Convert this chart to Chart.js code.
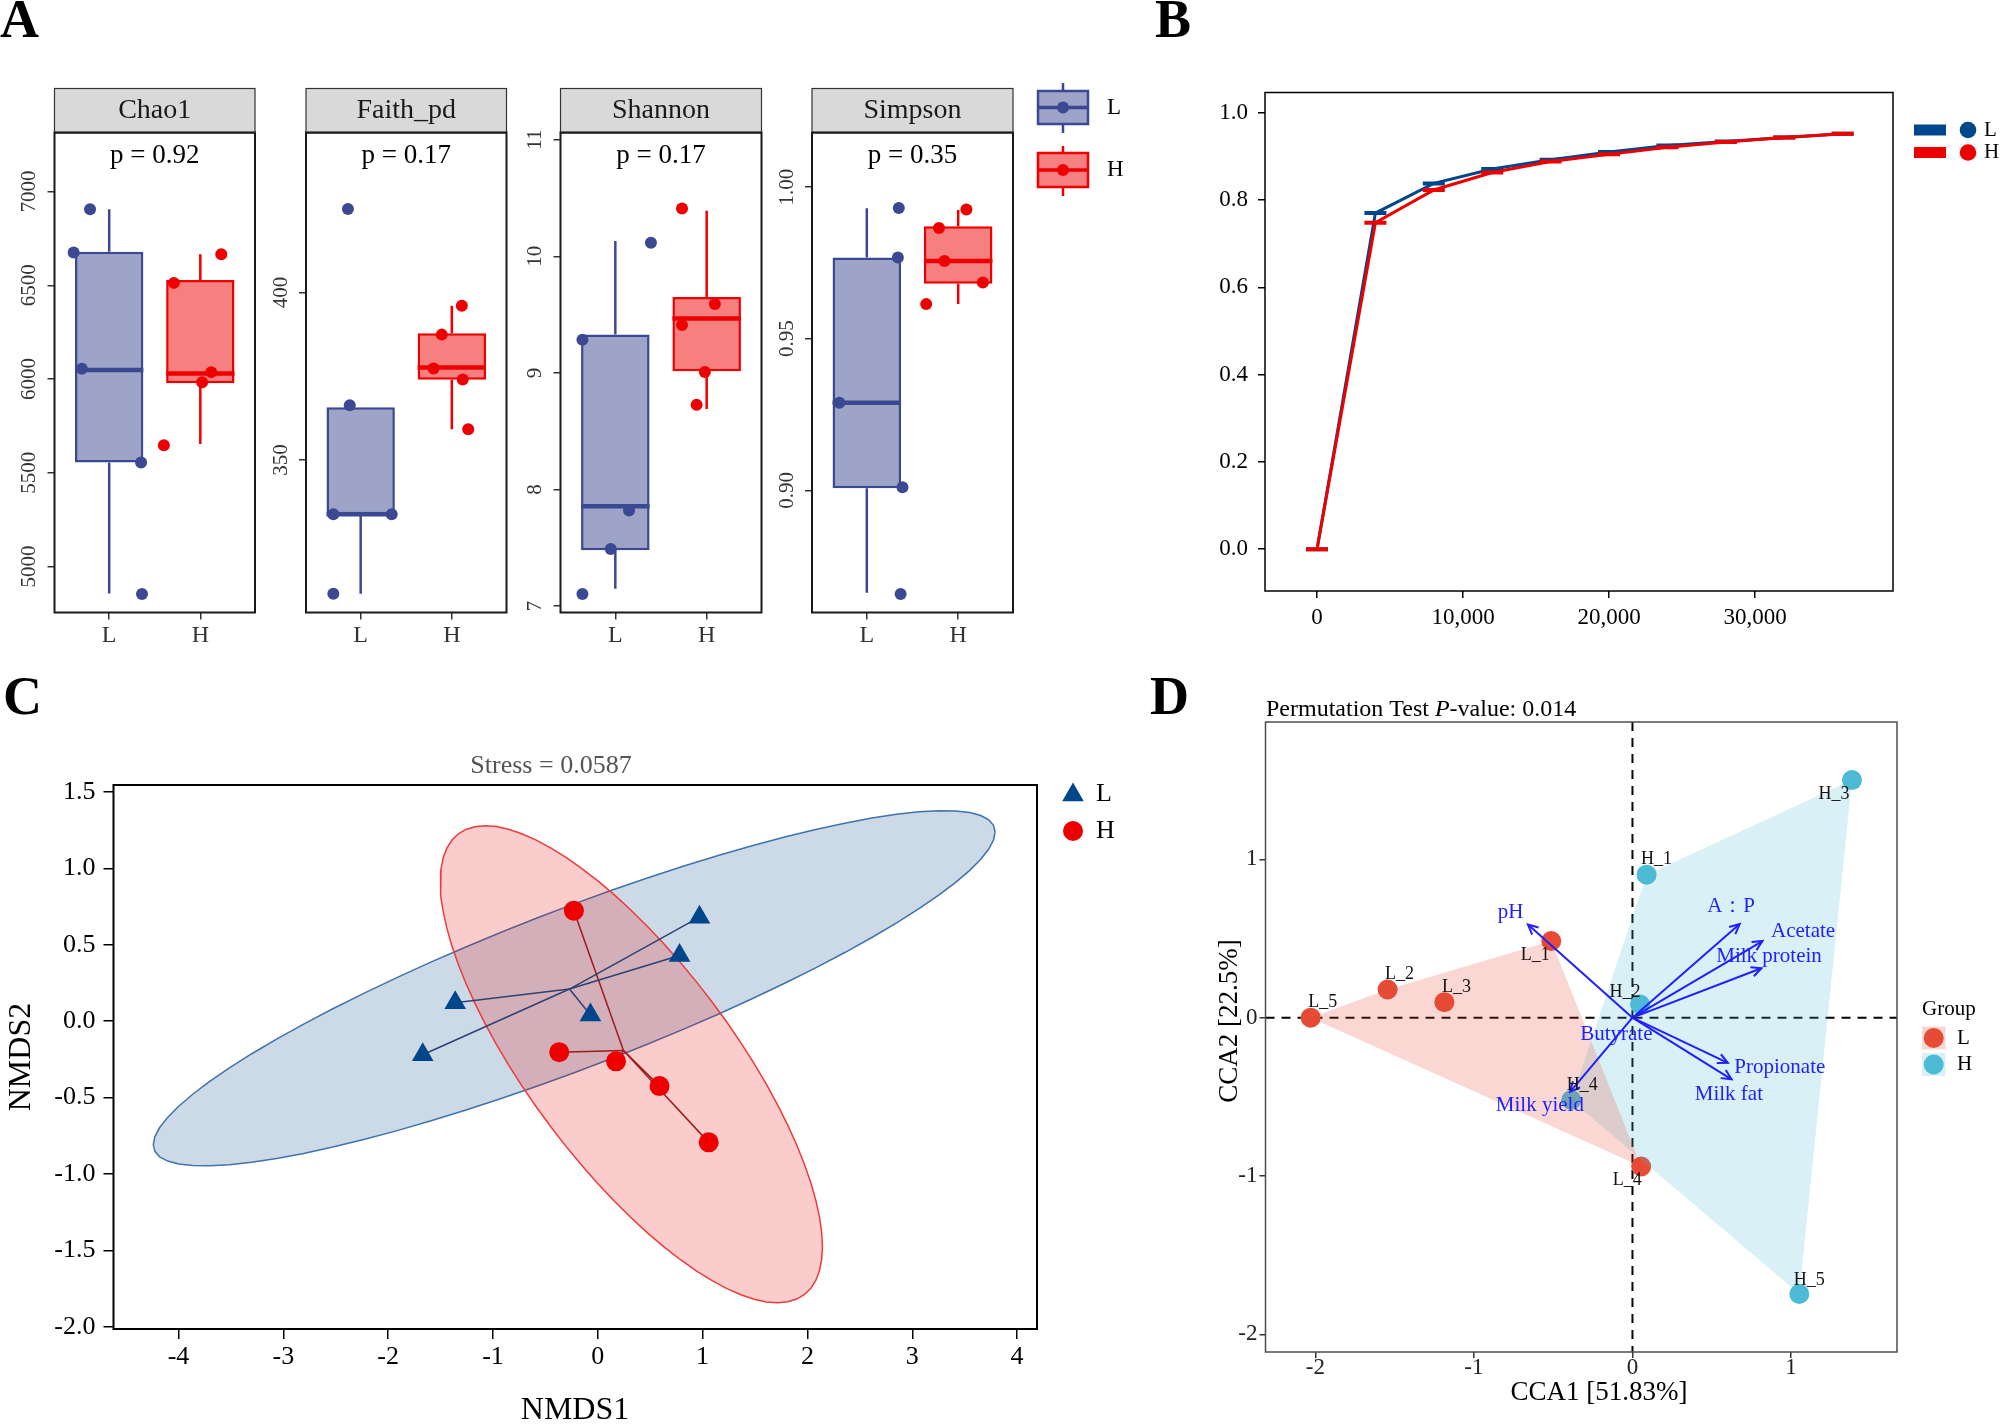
<!DOCTYPE html>
<html>
<head>
<meta charset="utf-8">
<script src="https://cdn.jsdelivr.net/npm/chart.js@4.4.1/dist/chart.umd.min.js"></script>
<style>
  html, body { margin: 0; padding: 0; background: #fff; }
  #fig { position: relative; width: 2000px; height: 1424px; overflow: hidden; background: #fff;
         font-family: 'Liberation Serif', 'Times New Roman', serif; }
  #fig canvas { position: absolute; left: 0; top: 0; }
  .tag { position: absolute; font-weight: bold; font-size: 54px; line-height: 1; color: #000; }
</style>
</head>
<body>
<div id="fig">
  <canvas id="a1" width="2000" height="1424"></canvas>
  <canvas id="a2" width="2000" height="1424"></canvas>
  <canvas id="a3" width="2000" height="1424"></canvas>
  <canvas id="a4" width="2000" height="1424"></canvas>
  <canvas id="b" width="2000" height="1424"></canvas>
  <canvas id="c" width="2000" height="1424"></canvas>
  <canvas id="d" width="2000" height="1424"></canvas>
  <div class="tag" style="left:0px;top:-8px">A</div>
  <div class="tag" style="left:1155px;top:-8px">B</div>
  <div class="tag" style="left:3px;top:669px">C</div>
  <div class="tag" style="left:1150px;top:669px">D</div>
</div>
<script>
// ---------- A: alpha diversity ----------
const groups = ['L', 'H'];
const facetNames = ['Chao1', 'Faith_pd', 'Shannon', 'Simpson'];
const facetP = ['p = 0.92', 'p = 0.17', 'p = 0.17', 'p = 0.35'];

const chao1L = [6906, 6675, 6055, 5555, 4854];
const chao1H = [6666, 6513, 6037, 5983, 5647];
const chao1JitL = [-0.21, -0.39, -0.30, 0.35, 0.36];
const chao1JitH = [0.23, -0.29, 0.12, 0.02, -0.40];
const chao1BoxL = [4856, 5555, 6048, 6679, 6906];
const chao1BoxH = [5654, 5978, 6030, 6529, 6666];
const chao1Ticks = [5000, 5500, 6000, 6500, 7000];
const chao1TickLabels = ['5000', '5500', '6000', '6500', '7000'];
const chao1Range = [4755, 7315];

const faithL = [424.9, 366.3, 333.8, 333.8, 310.1];
const faithH = [396.0, 387.4, 377.3, 374.0, 359.2];
const faithJitL = [-0.14, -0.12, -0.30, 0.34, -0.30];
const faithJitH = [0.11, -0.11, -0.20, 0.12, 0.18];
const faithBoxL = [310.1, 333.8, 333.8, 365.7, 365.7];
const faithBoxH = [359.2, 373.9, 377.6, 387.8, 396.0];
const faithTicks = [350, 400];
const faithTickLabels = ['350', '400'];
const faithRange = [304.5, 447.7];

const shannonL = [9.285, 10.116, 7.49, 7.82, 7.105];
const shannonH = [10.41, 9.59, 9.41, 9.007, 8.726];
const shannonJitL = [-0.36, 0.39, -0.05, 0.15, -0.36];
const shannonJitH = [-0.27, 0.09, -0.27, -0.02, -0.11];
const shannonBoxL = [7.15, 7.48, 7.856, 9.33, 10.13];
const shannonBoxH = [8.69, 9.015, 9.466, 9.65, 10.39];
const shannonTicks = [7, 8, 9, 10, 11];
const shannonTickLabels = ['7', '8', '9', '10', '11'];
const shannonRange = [6.946, 11.061];

const simpsonL = [0.9931, 0.9768, 0.9289, 0.9010, 0.8658];
const simpsonH = [0.9926, 0.9865, 0.9756, 0.9685, 0.9614];
const simpsonJitL = [0.35, 0.34, -0.30, 0.39, 0.37];
const simpsonJitH = [0.09, -0.21, -0.15, 0.27, -0.35];
const simpsonBoxL = [0.8662, 0.9007, 0.9289, 0.9768, 0.9930];
const simpsonBoxH = [0.9614, 0.9681, 0.9756, 0.9871, 0.9924];
const simpsonTicks = [0.90, 0.95, 1.00];
const simpsonTickLabels = ['0.90', '0.95', '1.00'];
const simpsonRange = [0.8597, 1.018];

// ---------- B: rarefaction ----------
const rareDepth = [0, 4000, 8000, 12000, 16000, 20000, 24000, 28000, 32000, 36000];
const rareL = [0, 0.770, 0.838, 0.871, 0.892, 0.910, 0.925, 0.934, 0.943, 0.952];
const rareH = [0, 0.748, 0.823, 0.863, 0.888, 0.905, 0.921, 0.933, 0.943, 0.952];
const rareXTicks = [0, 10000, 20000, 30000];
const rareXLabels = ['0', '10,000', '20,000', '30,000'];
const rareYTicks = [0, 0.2, 0.4, 0.6, 0.8, 1.0];
const rareYLabels = ['0.0', '0.2', '0.4', '0.6', '0.8', '1.0'];

// ---------- C: NMDS ----------
const nmdsLx = [0.97, 0.78, -1.36, -0.07, -1.67];
const nmdsLy = [0.68, 0.43, 0.12, 0.04, -0.22];
const nmdsHx = [-0.228, -0.368, 0.174, 0.589, 1.058];
const nmdsHy = [0.723, -0.203, -0.263, -0.425, -0.793];
const nmdsXTicks = [-4, -3, -2, -1, 0, 1, 2, 3, 4];
const nmdsXLabels = ['-4', '-3', '-2', '-1', '0', '1', '2', '3', '4'];
const nmdsYTicks = [-2, -1.5, -1, -0.5, 0, 0.5, 1, 1.5];
const nmdsYLabels = ['-2.0', '-1.5', '-1.0', '-0.5', '0.0', '0.5', '1.0', '1.5'];

// ---------- D: CCA ----------
const ccaLNames = ['L_1', 'L_2', 'L_3', 'L_4', 'L_5'];
const ccaLx = [-0.512, -1.544, -1.186, 0.055, -2.029];
const ccaLy = [0.484, 0.178, 0.098, -0.940, 0.000];
const ccaHNames = ['H_1', 'H_2', 'H_3', 'H_4', 'H_5'];
const ccaHx = [0.089, 0.048, 1.384, -0.386, 1.052];
const ccaHy = [0.903, 0.083, 1.500, -0.520, -1.745];
const envNames = ['pH', 'A：P', 'Acetate', 'Milk protein', 'Propionate', 'Milk fat', 'Milk yield', 'Butyrate'];
const envX = [-0.659, 0.676, 0.820, 0.813, 0.601, 0.625, -0.393, -0.010];
const envY = [0.588, 0.591, 0.484, 0.312, -0.285, -0.389, -0.468, -0.010];
const envLabX = [-0.768, 0.622, 1.076, 0.861, 0.929, 0.608, -0.584, -0.102];
const envLabY = [0.667, 0.704, 0.545, 0.389, -0.312, -0.484, -0.554, -0.107];
const ccaTicks = [-2, -1, 0, 1];
const ccaTickLabels = ['-2', '-1', '0', '1'];

// label nudges in pixels (text placement only)
const ccaLNudge = [[-16, 14], [12, -15], [12, -15], [-14, 14], [12, -15]];
const ccaHNudge = [[10, -15], [-15, -12], [-18, 14], [11, -15], [10, -14]];

// ---------- styling ----------
const SERIF = "'Liberation Serif', 'Times New Roman', serif";
const aLine = ['#3B4992', '#EE0000'];
const aFill = ['rgba(59,73,146,0.5)', 'rgba(238,0,0,0.5)'];
const lancet = ['#00468B', '#ED0000'];
const npg = ['#E64B35', '#4DBBD5'];
const npgFill = ['rgba(230,75,53,0.22)', 'rgba(77,187,213,0.22)'];

Chart.defaults.font.family = SERIF;
Chart.defaults.animation = false;
Chart.defaults.events = [];
Chart.defaults.plugins.legend.display = false;
Chart.defaults.plugins.tooltip.enabled = false;

function pad(l, t, r, b, yW, xH) {
  return { left: l - yW, top: t, right: 2000 - r, bottom: 1424 - b - xH };
}
const fixTicks = vals => s => { s.ticks = vals.map(v => ({ value: v })); };
const fitW = w => s => { s.width = w; };
const fitH = h => s => { s.height = h; };
function seg(points, color, width, order) {
  return { data: points, showLine: true, borderColor: color, borderWidth: width,
           pointRadius: 0, order: order, tension: 0 };
}
function txt(ctx, s, x, y, size, color, align, rot) {
  ctx.save();
  ctx.font = size + 'px ' + SERIF;
  ctx.fillStyle = color;
  ctx.textAlign = align || 'center';
  ctx.textBaseline = 'middle';
  ctx.translate(x, y);
  if (rot) ctx.rotate(rot);
  ctx.fillText(s, 0, 0);
  ctx.restore();
}
function gridOpts(len, color) {
  return { display: true, drawOnChartArea: false, drawTicks: true, tickLength: len,
           color: color, lineWidth: 1.5, offset: false };
}

// ---------- A ----------
const facetPlugin = {
  id: 'facet',
  afterDatasetsDraw(chart) {
    const { ctx, chartArea: a } = chart;
    ctx.save();
    ctx.strokeStyle = '#1a1a1a';
    ctx.lineWidth = 2;
    ctx.strokeRect(a.left, a.top, a.right - a.left, a.bottom - a.top);
    ctx.restore();
  },
  afterDraw(chart, args, o) {
    const { ctx, chartArea: a, scales } = chart;
    const cx = (a.left + a.right) / 2;
    ctx.save();
    ctx.fillStyle = '#d9d9d9';
    ctx.fillRect(a.left, a.top - 44, a.right - a.left, 44);
    ctx.strokeStyle = '#333';
    ctx.lineWidth = 1.2;
    ctx.strokeRect(a.left, a.top - 44, a.right - a.left, 44);
    ctx.strokeStyle = '#1a1a1a';
    ctx.lineWidth = 2;
    ctx.beginPath(); ctx.moveTo(a.left, a.top); ctx.lineTo(a.right, a.top); ctx.stroke();
    ctx.restore();
    txt(ctx, o.title, cx, a.top - 22, 28, '#1a1a1a');
    txt(ctx, o.p, cx, a.top + 23, 27, '#000');
    const y = scales.y;
    y.ticks.forEach((t, i) => {
      txt(ctx, o.tickLabels[i], a.left - 25, y.getPixelForValue(t.value), 21, '#333', 'center', -Math.PI / 2);
    });
    if (o.legend) {
      const keys = [[91, 124, 83, 133], [153, 187, 146, 196]];
      const lx = 1038, lw = 50, mx = lx + lw / 2;
      keys.forEach((k, g) => {
        const [t, b, wt, wb] = k;
        ctx.save();
        ctx.strokeStyle = aLine[g];
        ctx.lineWidth = 2.5;
        ctx.beginPath();
        ctx.moveTo(mx, wt); ctx.lineTo(mx, t);
        ctx.moveTo(mx, b); ctx.lineTo(mx, wb);
        ctx.stroke();
        ctx.fillStyle = aFill[g];
        ctx.fillRect(lx, t, lw, b - t);
        ctx.strokeRect(lx, t, lw, b - t);
        ctx.lineWidth = 3.5;
        ctx.beginPath(); ctx.moveTo(lx, (t + b) / 2); ctx.lineTo(lx + lw, (t + b) / 2); ctx.stroke();
        ctx.fillStyle = aLine[g];
        ctx.beginPath(); ctx.arc(mx, (t + b) / 2, 6, 0, Math.PI * 2); ctx.fill();
        ctx.restore();
        txt(ctx, groups[g], 1107, (t + b) / 2, 23, '#000', 'left');
      });
    }
  }
};

function facet(id, k, box, vals, jits, stats, ticks, tickLabels, range, legend) {
  const ds = [];
  stats.forEach((s, g) => {
    const c = g + 1;
    ds.push(seg([{ x: c, y: s[0] }, { x: c, y: s[1] }], aLine[g], 2.5, 6));
    ds.push(seg([{ x: c, y: s[3] }, { x: c, y: s[4] }], aLine[g], 2.5, 6));
    ds.push(seg([{ x: c - 0.375, y: s[2] }, { x: c + 0.375, y: s[2] }], aLine[g], 4.5, 3));
  });
  ds.push({ type: 'bar', data: stats.map((s, g) => ({ x: g + 1, y: [s[1], s[3]] })),
            backgroundColor: aFill, borderColor: aLine, borderWidth: 2.5, borderSkipped: false,
            categoryPercentage: 0.75, barPercentage: 1, order: 4 });
  vals.forEach((v, g) => ds.push({ data: v.map((y, i) => ({ x: g + 1 + jits[g][i], y: y })),
            pointRadius: 6, backgroundColor: aLine[g], borderWidth: 0, order: 1 }));
  return new Chart(document.getElementById(id), {
    type: 'scatter',
    data: { datasets: ds },
    plugins: [facetPlugin],
    options: {
      responsive: false,
      layout: { padding: pad(box[0], box[1], box[2], box[3], 40, 50) },
      plugins: { facet: { title: facetNames[k], p: facetP[k], tickLabels: tickLabels, legend: legend } },
      scales: {
        x: { type: 'linear', min: 0.4, max: 2.6, offset: false, bounds: 'data',
             afterBuildTicks: fixTicks([1, 2]), afterFit: fitH(50),
             grid: gridOpts(7, '#333'), border: { display: false },
             ticks: { callback: (v, i) => groups[i], font: { size: 24, lineHeight: 1 },
                      color: '#333', padding: 4, maxRotation: 0, autoSkip: false } },
        y: { type: 'linear', min: range[0], max: range[1], bounds: 'data',
             afterBuildTicks: fixTicks(ticks), afterFit: fitW(40),
             grid: gridOpts(7, '#333'), border: { display: false },
             ticks: { display: false } }
      }
    }
  });
}

facet('a1', 0, [54.5, 132.5, 255, 612.5], [chao1L, chao1H], [chao1JitL, chao1JitH],
      [chao1BoxL, chao1BoxH], chao1Ticks, chao1TickLabels, chao1Range, false);
facet('a2', 1, [306, 132.5, 506.5, 612.5], [faithL, faithH], [faithJitL, faithJitH],
      [faithBoxL, faithBoxH], faithTicks, faithTickLabels, faithRange, false);
facet('a3', 2, [560.5, 132.5, 761.5, 612.5], [shannonL, shannonH], [shannonJitL, shannonJitH],
      [shannonBoxL, shannonBoxH], shannonTicks, shannonTickLabels, shannonRange, false);
facet('a4', 3, [812, 132.5, 1013, 612.5], [simpsonL, simpsonH], [simpsonJitL, simpsonJitH],
      [simpsonBoxL, simpsonBoxH], simpsonTicks, simpsonTickLabels, simpsonRange, true);

// ---------- B ----------
const rarePlugin = {
  id: 'rare',
  afterDatasetsDraw(chart) {
    const { ctx, chartArea: a } = chart;
    ctx.save();
    ctx.strokeStyle = '#000';
    ctx.lineWidth = 1.5;
    ctx.strokeRect(a.left, a.top, a.right - a.left, a.bottom - a.top);
    ctx.restore();
  },
  afterDraw(chart) {
    const ctx = chart.ctx;
    const rows = [130, 152.5];
    rows.forEach((y, g) => {
      ctx.save();
      ctx.fillStyle = lancet[g];
      ctx.fillRect(1914, y - 5.5, 32, 11);
      ctx.beginPath(); ctx.arc(1968, y, 8.3, 0, Math.PI * 2); ctx.fill();
      ctx.restore();
      txt(ctx, groups[g], 1984, y, 21, '#000', 'left');
    });
  }
};
new Chart(document.getElementById('b'), {
  type: 'scatter',
  data: { datasets: [
    { data: rareDepth.map((x, i) => ({ x: x, y: rareL[i] })), showLine: true, borderColor: lancet[0],
      borderWidth: 3, pointStyle: 'line', pointRadius: 11, pointBorderColor: lancet[0],
      pointBorderWidth: 4, order: 2 },
    { data: rareDepth.map((x, i) => ({ x: x, y: rareH[i] })), showLine: true, borderColor: lancet[1],
      borderWidth: 3, pointStyle: 'line', pointRadius: 11, pointBorderColor: lancet[1],
      pointBorderWidth: 4, order: 1 }
  ] },
  plugins: [rarePlugin],
  options: {
    responsive: false,
    layout: { padding: pad(1265, 92.5, 1893, 591, 60, 50) },
    scales: {
      x: { type: 'linear', min: -3562, max: 39450, bounds: 'data',
           afterBuildTicks: fixTicks(rareXTicks), afterFit: fitH(50),
           grid: gridOpts(7, '#000'), border: { display: false },
           ticks: { callback: (v, i) => rareXLabels[i], font: { size: 23, lineHeight: 1 },
                    color: '#000', padding: 8.5, maxRotation: 0, autoSkip: false } },
      y: { type: 'linear', min: -0.0958, max: 1.0463, bounds: 'data',
           afterBuildTicks: fixTicks(rareYTicks), afterFit: fitW(60),
           grid: gridOpts(7, '#000'), border: { display: false },
           ticks: { callback: (v, i) => rareYLabels[i], font: { size: 23, lineHeight: 1 },
                    color: '#000', padding: 10 } }
    }
  }
});

// ---------- C ----------
// robust t covariance (as used for confidence ellipses), then 95% ellipse
function covTrob(xs, ys) {
  const n = xs.length, nu = 5, p = 2;
  let w = xs.map(() => 1);
  let lx = xs.reduce((s, v) => s + v, 0) / n;
  let ly = ys.reduce((s, v) => s + v, 0) / n;
  let X = [];
  for (let iter = 0; iter < 25; iter++) {
    const w0 = w.slice();
    X = xs.map((x, i) => [x - lx, ys[i] - ly]);
    const sw = w.reduce((s, v) => s + v, 0);
    let a = 0, b = 0, c = 0;
    X.forEach((d, i) => { a += w[i] * d[0] * d[0]; b += w[i] * d[0] * d[1]; c += w[i] * d[1] * d[1]; });
    a /= sw; b /= sw; c /= sw;
    const det = a * c - b * b;
    const Q = X.map(d => (c * d[0] * d[0] - 2 * b * d[0] * d[1] + a * d[1] * d[1]) / det);
    w = Q.map(q => (nu + p) / (nu + q));
    const sw2 = w.reduce((s, v) => s + v, 0);
    lx = xs.reduce((s, v, i) => s + w[i] * v, 0) / sw2;
    ly = ys.reduce((s, v, i) => s + w[i] * v, 0) / sw2;
    if (w.every((v, i) => Math.abs(v - w0[i]) < 0.01)) break;
  }
  let a = 0, b = 0, c = 0;
  X.forEach((d, i) => { a += w[i] * d[0] * d[0]; b += w[i] * d[0] * d[1]; c += w[i] * d[1] * d[1]; });
  return { cx: lx, cy: ly, a: a / n, b: b / n, c: c / n };
}
function ellipse(xs, ys) {
  const v = covTrob(xs, ys);
  const radius = Math.sqrt(2 * 6.944272); // sqrt(2 * qf(0.95, 2, n - 1)), n = 5
  const r11 = Math.sqrt(v.a), r12 = v.b / r11, r22 = Math.sqrt(v.c - r12 * r12);
  const pts = [];
  for (let i = 0; i <= 72; i++) {
    const t = i * 2 * Math.PI / 72;
    pts.push({ x: v.cx + radius * Math.cos(t) * r11,
               y: v.cy + radius * (Math.cos(t) * r12 + Math.sin(t) * r22) });
  }
  return pts;
}
const mean = a => a.reduce((s, v) => s + v, 0) / a.length;
const cL = { x: mean(nmdsLx), y: mean(nmdsLy) };
const cH = { x: mean(nmdsHx), y: mean(nmdsHy) };

const nmdsSets = [
  { data: ellipse(nmdsLx, nmdsLy), showLine: true, fill: 'shape', backgroundColor: 'rgba(0,70,139,0.2)',
    borderColor: '#3f73ab', borderWidth: 1.5, pointRadius: 0, tension: 0, order: 10 },
  { data: ellipse(nmdsHx, nmdsHy), showLine: true, fill: 'shape', backgroundColor: 'rgba(237,0,0,0.2)',
    borderColor: '#ee3a3a', borderWidth: 1.5, pointRadius: 0, tension: 0, order: 9 }
];
nmdsLx.forEach((x, i) => nmdsSets.push(seg([{ x: x, y: nmdsLy[i] }, cL], '#2c4270', 1.5, 5)));
nmdsHx.forEach((x, i) => nmdsSets.push(seg([{ x: x, y: nmdsHy[i] }, cH], '#9e1b1b', 1.5, 5)));
nmdsSets.push({ data: nmdsLx.map((x, i) => ({ x: x, y: nmdsLy[i] })), pointStyle: 'triangle',
                pointRadius: 12.5, backgroundColor: lancet[0], borderWidth: 0, order: 2 });
nmdsSets.push({ data: nmdsHx.map((x, i) => ({ x: x, y: nmdsHy[i] })), pointStyle: 'circle',
                pointRadius: 10, backgroundColor: lancet[1], borderWidth: 0, order: 1 });

const nmdsPlugin = {
  id: 'nmds',
  afterDatasetsDraw(chart) {
    const { ctx, chartArea: a } = chart;
    ctx.save();
    ctx.strokeStyle = '#000';
    ctx.lineWidth = 2;
    ctx.strokeRect(a.left, a.top, a.right - a.left, a.bottom - a.top);
    ctx.restore();
  },
  afterDraw(chart) {
    const ctx = chart.ctx;
    txt(ctx, 'Stress = 0.0587', 551, 766, 26, '#555');
    txt(ctx, 'NMDS1', 575, 1411, 32, '#000');
    txt(ctx, 'NMDS2', 22, 1057, 32, '#000', 'center', -Math.PI / 2);
    ctx.save();
    ctx.fillStyle = lancet[0];
    const r = 12.5;
    ctx.beginPath();
    ctx.moveTo(1073, 795 - r);
    ctx.lineTo(1073 + r * Math.sqrt(3) / 2, 795 + r / 2);
    ctx.lineTo(1073 - r * Math.sqrt(3) / 2, 795 + r / 2);
    ctx.closePath(); ctx.fill();
    ctx.fillStyle = lancet[1];
    ctx.beginPath(); ctx.arc(1073, 831, 10, 0, Math.PI * 2); ctx.fill();
    ctx.restore();
    txt(ctx, groups[0], 1096, 794, 26, '#000', 'left');
    txt(ctx, groups[1], 1096, 831, 26, '#000', 'left');
  }
};
new Chart(document.getElementById('c'), {
  type: 'scatter',
  data: { datasets: nmdsSets },
  plugins: [nmdsPlugin],
  options: {
    responsive: false,
    layout: { padding: pad(113.5, 785, 1037, 1329, 60, 50) },
    scales: {
      x: { type: 'linear', min: -4.62, max: 4.19, bounds: 'data',
           afterBuildTicks: fixTicks(nmdsXTicks), afterFit: fitH(50),
           grid: gridOpts(10, '#000'), border: { display: false },
           ticks: { callback: (v, i) => nmdsXLabels[i], font: { size: 26, lineHeight: 1 },
                    color: '#000', padding: 5, maxRotation: 0, autoSkip: false } },
      y: { type: 'linear', min: -2.014, max: 1.545, bounds: 'data',
           afterBuildTicks: fixTicks(nmdsYTicks), afterFit: fitW(60),
           grid: gridOpts(10, '#000'), border: { display: false },
           ticks: { callback: (v, i) => nmdsYLabels[i], font: { size: 26, lineHeight: 1 },
                    color: '#000', padding: 8 } }
    }
  }
});

// ---------- D ----------
function hull(xs, ys) {
  const p = xs.map((x, i) => [x, ys[i]]).sort((a, b) => a[0] - b[0] || a[1] - b[1]);
  const cross = (o, a, b) => (a[0] - o[0]) * (b[1] - o[1]) - (a[1] - o[1]) * (b[0] - o[0]);
  const lo = [], up = [];
  p.forEach(q => { while (lo.length >= 2 && cross(lo[lo.length - 2], lo[lo.length - 1], q) <= 0) lo.pop(); lo.push(q); });
  p.slice().reverse().forEach(q => { while (up.length >= 2 && cross(up[up.length - 2], up[up.length - 1], q) <= 0) up.pop(); up.push(q); });
  const h = lo.slice(0, -1).concat(up.slice(0, -1));
  h.push(h[0]);
  return h.map(q => ({ x: q[0], y: q[1] }));
}
const ccaSets = [
  { data: ccaLx.map((x, i) => ({ x: x, y: ccaLy[i] })), pointRadius: 10, backgroundColor: npg[0], borderWidth: 0, order: 4 },
  { data: ccaHx.map((x, i) => ({ x: x, y: ccaHy[i] })), pointRadius: 10, backgroundColor: npg[1], borderWidth: 0, order: 3 },
  { data: hull(ccaHx, ccaHy), showLine: true, fill: 'shape', backgroundColor: npgFill[1], borderWidth: 0,
    borderColor: 'rgba(0,0,0,0)', pointRadius: 0, tension: 0, order: 2 },
  { data: hull(ccaLx, ccaLy), showLine: true, fill: 'shape', backgroundColor: npgFill[0], borderWidth: 0,
    borderColor: 'rgba(0,0,0,0)', pointRadius: 0, tension: 0, order: 1 }
];
const ccaPlugin = {
  id: 'cca',
  beforeDatasetsDraw(chart) {
    const { ctx, chartArea: a, scales: { x, y } } = chart;
    ctx.save();
    ctx.strokeStyle = '#000';
    ctx.lineWidth = 2;
    ctx.setLineDash([9, 7]);
    ctx.beginPath();
    ctx.moveTo(x.getPixelForValue(0), a.top); ctx.lineTo(x.getPixelForValue(0), a.bottom);
    ctx.moveTo(a.left, y.getPixelForValue(0)); ctx.lineTo(a.right, y.getPixelForValue(0));
    ctx.stroke();
    ctx.restore();
  },
  afterDatasetsDraw(chart) {
    const { ctx, chartArea: a, scales: { x, y } } = chart;
    const ox = x.getPixelForValue(0), oy = y.getPixelForValue(0);
    ctx.save();
    ctx.strokeStyle = '#1f1fff';
    ctx.lineWidth = 2;
    envX.forEach((ex, i) => {
      const px = x.getPixelForValue(ex), py = y.getPixelForValue(envY[i]);
      const len = Math.hypot(px - ox, py - oy);
      ctx.beginPath(); ctx.moveTo(ox, oy); ctx.lineTo(px, py); ctx.stroke();
      if (len > 12) {
        const ang = Math.atan2(py - oy, px - ox);
        ctx.beginPath();
        ctx.moveTo(px - 11 * Math.cos(ang - 0.45), py - 11 * Math.sin(ang - 0.45));
        ctx.lineTo(px, py);
        ctx.lineTo(px - 11 * Math.cos(ang + 0.45), py - 11 * Math.sin(ang + 0.45));
        ctx.stroke();
      }
    });
    ctx.restore();
    envNames.forEach((nm, i) => txt(ctx, nm, x.getPixelForValue(envLabX[i]), y.getPixelForValue(envLabY[i]), 21, '#1f1fff'));
    ccaLNames.forEach((nm, i) => txt(ctx, nm, x.getPixelForValue(ccaLx[i]) + ccaLNudge[i][0],
      y.getPixelForValue(ccaLy[i]) + ccaLNudge[i][1], 18, '#111'));
    ccaHNames.forEach((nm, i) => txt(ctx, nm, x.getPixelForValue(ccaHx[i]) + ccaHNudge[i][0],
      y.getPixelForValue(ccaHy[i]) + ccaHNudge[i][1], 18, '#111'));
    ctx.save();
    ctx.strokeStyle = '#4d4d4d';
    ctx.lineWidth = 1.5;
    ctx.strokeRect(a.left, a.top, a.right - a.left, a.bottom - a.top);
    ctx.restore();
  },
  afterDraw(chart) {
    const ctx = chart.ctx;
    // title with italic P
    ctx.save();
    ctx.fillStyle = '#000';
    ctx.textBaseline = 'middle';
    ctx.textAlign = 'left';
    let tx = 1266;
    const parts = [['Permutation Test ', ''], ['P', 'italic '], ['-value: 0.014', '']];
    parts.forEach(pt => {
      ctx.font = pt[1] + '24px ' + SERIF;
      ctx.fillText(pt[0], tx, 710);
      tx += ctx.measureText(pt[0]).width;
    });
    ctx.restore();
    txt(ctx, 'CCA1 [51.83%]', 1599, 1393, 27, '#000');
    txt(ctx, 'CCA2 [22.5%]', 1230, 1021, 27, '#000', 'center', -Math.PI / 2);
    txt(ctx, 'Group', 1922, 1009, 21, '#000', 'left');
    [1038, 1064.5].forEach((ky, g) => {
      ctx.save();
      ctx.fillStyle = npgFill[g];
      ctx.fillRect(1922, ky - 11.5, 23.5, 23);
      ctx.fillStyle = npg[g];
      ctx.beginPath(); ctx.arc(1933.7, ky, 10, 0, Math.PI * 2); ctx.fill();
      ctx.restore();
      txt(ctx, groups[g], 1957, ky, 21, '#000', 'left');
    });
  }
};
new Chart(document.getElementById('d'), {
  type: 'scatter',
  data: { datasets: ccaSets },
  plugins: [ccaPlugin],
  options: {
    responsive: false,
    layout: { padding: pad(1265.5, 722, 1897, 1352, 50, 40) },
    scales: {
      x: { type: 'linear', min: -2.314, max: 1.668, bounds: 'data',
           afterBuildTicks: fixTicks(ccaTicks), afterFit: fitH(40),
           grid: gridOpts(6, '#333'), border: { display: false },
           ticks: { callback: (v, i) => ccaTickLabels[i], font: { size: 23, lineHeight: 1 },
                    color: '#222', padding: -2, maxRotation: 0, autoSkip: false } },
      y: { type: 'linear', min: -2.111, max: 1.867, bounds: 'data',
           afterBuildTicks: fixTicks(ccaTicks), afterFit: fitW(50),
           grid: gridOpts(6, '#333'), border: { display: false },
           ticks: { callback: (v, i) => ccaTickLabels[i], font: { size: 23, lineHeight: 1 },
                    color: '#222', padding: 2 } }
    }
  }
});
</script>
</body>
</html>
